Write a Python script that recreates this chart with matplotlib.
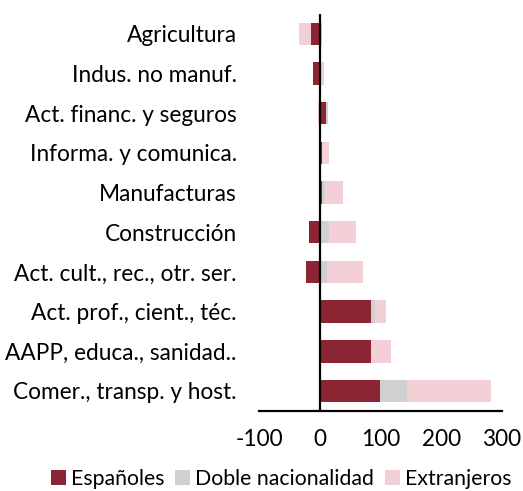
import matplotlib
matplotlib.use("Agg")
import matplotlib.pyplot as plt
import numpy as np

plt.rcParams['font.family'] = ['Lato', 'DejaVu Sans']

categories = ["Agricultura", "Indus. no manuf.", "Act. financ. y seguros",
              "Informa. y comunica.", "Manufacturas", "Construcción",
              "Act. cult., rec., otr. ser.", "Act. prof., cient., téc.",
              "AAPP, educa., sanidad..", "Comer., transp. y host."]
espanoles = [-14, -10.5, 10.5, 3, 4, -17, -22.5, 85, 84.5, 99]
doble = [3, 1, 3, 0.5, 5, 15, 11.5, 6, -2, 44.5]
extranjeros = [-20, 6.5, -3, 12, 29, 45, 60, 18.5, 33, 139]
series_names = ["Españoles", "Doble nacionalidad", "Extranjeros"]
colors = ["#8B2533", "#D0D0D0", "#F2D0D5"]
xticks = [-100, 0, 100, 200, 300]

fig = plt.figure(figsize=(5.23, 4.91), dpi=100)
ax = fig.add_axes([259/523, 1-410.7/491, (502-259)/523, (410.7-14)/491])

y = np.arange(len(categories))
pos = np.zeros(len(categories))
neg = np.zeros(len(categories))
for vals, name, c in zip([espanoles, doble, extranjeros], series_names, colors):
    v = np.array(vals, dtype=float)
    left = np.where(v >= 0, pos, neg)
    ax.barh(y, v, left=left, height=0.57, color=c, label=name)
    pos = pos + np.where(v >= 0, v, 0)
    neg = neg + np.where(v < 0, v, 0)

ax.axvline(0, color="black", lw=1.6, zorder=5)
ax.set_xlim(-100, 300)
ax.set_ylim(len(categories) - 0.5, -0.5)
ax.set_yticks(y)
ax.set_yticklabels(categories)
ax.set_xticks(xticks)
ax.set_xticklabels([str(t) for t in xticks])
ax.tick_params(axis='both', length=0, labelsize=16.3)
ax.tick_params(axis='y', pad=16)
ax.tick_params(axis='x', pad=13)
for s in ["top", "right", "left"]:
    ax.spines[s].set_visible(False)
ax.spines["bottom"].set_linewidth(1.6)

fig.legend(loc="center", bbox_to_anchor=(281/523, 1-479/491), ncol=3,
           frameon=False, fontsize=15.3, handlelength=0.7, handleheight=0.7,
           handletextpad=0.25, columnspacing=0.5, borderaxespad=0)

fig.savefig("out.png", dpi=100)
